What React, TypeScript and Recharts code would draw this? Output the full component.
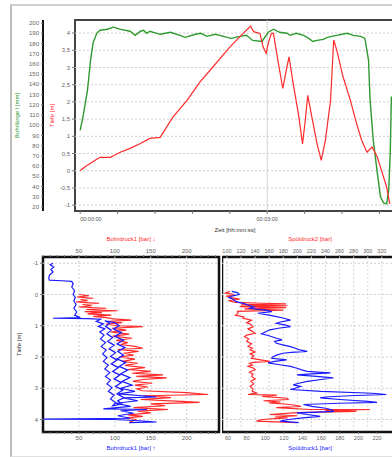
import React from 'react';
import { LineChart, Line, XAxis, YAxis, ReferenceLine, ReferenceArea, Label } from 'recharts';

const FONT = '"Liberation Sans", Arial, sans-serif';
const RED = '#ff2a2a';
const GREEN = '#2e9a2e';
const BLUE = '#1a1aff';
const TICK = { fontSize: 6, fill: '#666' };

const comma = (v: number) => String(v).replace('.', ',');

// upper chart: depth and drilled length over time (seconds)
const timeTicks = [0, 36, 72, 108, 144, 180, 216, 252, 288];
const timeLabels: Record<number, string> = { 0: '00:00:00', 180: '00:03:00' };
const depthTicksTop = [4, 3.5, 3, 2.5, 2, 1.5, 1, 0.5, 0, -0.5, -1];
const lengthTicks = [200, 190, 180, 170, 160, 150, 140, 130, 120, 110, 100, 90, 80, 70, 60, 50, 40, 30, 20];

const depthTime = [0, 5, 10, 14, 19, 29, 33, 38, 48, 58, 67, 77, 89, 103, 115, 125, 144, 157, 164, 167, 173, 176, 179, 181, 184, 186, 190, 195, 199, 201, 205, 210, 214, 217, 219, 223, 228, 232, 236, 241, 244, 247, 253, 260, 266, 271, 276, 281, 286, 290, 295, 298];
const depthValue = [0, 0.12, 0.22, 0.3, 0.39, 0.39, 0.45, 0.53, 0.65, 0.79, 0.94, 0.97, 1.55, 2.05, 2.57, 2.92, 3.59, 4.0, 4.2, 4.04, 3.99, 3.6, 3.41, 3.7, 3.99, 3.99, 3.26, 2.39, 3.02, 3.31, 2.53, 1.66, 0.78, 1.56, 2.19, 1.56, 0.78, 0.3, 0.88, 2.05, 3.8, 3.5, 2.73, 2.05, 1.37, 0.88, 0.54, 0.69, 0.39, 0.01, -0.48, -0.96];

const lengthTime = [0, 3, 7, 10, 12.5, 16, 19, 26, 32, 38, 48, 53, 58, 61, 64, 67, 77, 87, 96, 101, 111, 116, 122, 130, 138, 145, 154, 160, 166, 175, 181, 186, 192, 199, 202, 208, 215, 220, 224, 228, 234, 238, 242, 247, 252, 257, 263, 270, 274, 277.5, 279, 282, 286, 289, 292, 295, 297, 298.5, 299.5];
const lengthValue = [95, 110, 134, 164, 181, 190, 193, 194, 196, 194, 192, 188, 192, 193, 190, 192, 189, 191, 188, 186, 189, 190, 187, 189, 187, 185, 187, 188, 183, 182, 191, 194, 191, 190, 188, 190, 188, 185, 182, 183, 184, 186, 187, 188, 189, 190, 188, 187, 185, 164, 125, 86, 53, 30, 24, 23, 37, 76, 128];

// lower charts: pressure profiles over depth, [depth, pressure]
const depthTicksLow = [-1, 0, 1, 2, 3, 4];
const leftTicks = [0, 10, 20, 30, 40, 50, 60, 70, 80, 90, 100, 110, 120, 130, 140, 150, 160, 170, 180, 190, 200, 210, 220, 230, 240];
const rightTopTicks = [100, 120, 140, 160, 180, 200, 220, 240, 260, 280, 300, 320, 340];
const rightBottomTicks = [60, 80, 100, 120, 140, 160, 180, 200, 220, 240];

const leftRed: [number, number][] = [
  [0.0, 50], [0.04, 64], [0.08, 47], [0.12, 70], [0.16, 52], [0.2, 62], [0.24, 46], [0.28, 78], [0.32, 55], [0.36, 68],
  [0.4, 50], [0.44, 88], [0.48, 60], [0.52, 104], [0.55, 58], [0.58, 82], [0.62, 62], [0.66, 95], [0.7, 70], [0.74, 88],
  [0.78, 98], [0.82, 123], [0.86, 92], [0.9, 110], [0.95, 88], [1.0, 105], [1.03, 139], [1.08, 96], [1.14, 116], [1.2, 94],
  [1.27, 120], [1.33, 97], [1.4, 124], [1.47, 102], [1.54, 118], [1.6, 108], [1.66, 128], [1.72, 139], [1.76, 104], [1.82, 133],
  [1.88, 112], [1.94, 126], [2.0, 106], [2.07, 128], [2.14, 110], [2.2, 132], [2.27, 114], [2.34, 142], [2.4, 118], [2.46, 150],
  [2.52, 124], [2.57, 167], [2.62, 130], [2.67, 172], [2.72, 139], [2.78, 125], [2.84, 152], [2.9, 128], [2.96, 146], [3.02, 131],
  [3.08, 138], [3.14, 200], [3.2, 230], [3.24, 140], [3.3, 178], [3.36, 136], [3.42, 193], [3.45, 218], [3.5, 150], [3.56, 170],
  [3.62, 126], [3.68, 174], [3.73, 132], [3.79, 150], [3.85, 118], [3.9, 139], [3.95, 115], [4.0, 130], [4.05, 124], [4.1, 120],
];

const leftBlue: [number, number][] = [
  [-1.0, 14], [-0.95, 10], [-0.88, 15], [-0.8, 11], [-0.72, 14], [-0.62, 9], [-0.52, 8], [-0.46, 9], [-0.44, 26], [-0.42, 40],
  [-0.34, 42], [-0.24, 40], [-0.12, 44], [0.0, 42], [0.1, 45], [0.2, 43], [0.32, 46], [0.44, 43], [0.56, 47], [0.66, 44],
  [0.74, 52], [0.76, 14], [0.77, 62], [0.79, 80], [0.86, 74], [0.94, 84], [1.02, 77], [1.1, 86], [1.2, 79], [1.3, 85],
  [1.42, 80], [1.54, 87], [1.66, 81], [1.78, 88], [1.9, 83], [2.02, 89], [2.14, 84], [2.26, 91], [2.38, 86], [2.5, 93],
  [2.62, 87], [2.74, 94], [2.86, 89], [2.98, 96], [3.1, 91], [3.22, 99], [3.34, 94], [3.46, 101], [3.56, 97], [3.5, 110],
  [3.4, 104], [3.3, 113], [3.18, 103], [3.06, 111], [2.94, 101], [2.82, 109], [2.7, 99], [2.58, 107], [2.46, 97], [2.34, 105],
  [2.22, 95], [2.1, 103], [1.98, 94], [1.86, 101], [1.74, 92], [1.62, 99], [1.5, 90], [1.38, 97], [1.26, 89], [1.14, 95],
  [1.02, 87], [0.92, 93], [0.84, 86], [0.9, 100], [1.0, 106], [1.1, 98], [1.22, 109], [1.34, 100], [1.46, 112], [1.58, 103],
  [1.7, 114], [1.82, 104], [1.94, 112], [2.06, 103], [2.18, 115], [2.3, 106], [2.42, 118], [2.54, 108], [2.66, 121], [2.78, 110],
  [2.9, 124], [3.0, 108], [3.1, 128], [3.18, 106], [3.28, 158], [3.31, 112], [3.4, 132], [3.48, 101], [3.58, 122], [3.66, 84],
  [3.68, 145], [3.72, 108], [3.8, 126], [3.88, 104], [3.96, 121], [3.99, 0], [4.0, 98], [4.04, 134], [4.08, 158], [4.1, 120],
];

const rightRed: [number, number][] = [
  [-0.1, 104], [-0.05, 98], [0.0, 110], [0.05, 100], [0.1, 106], [0.15, 118], [0.2, 102], [0.25, 112], [0.28, 150], [0.3, 184],
  [0.33, 120], [0.36, 186], [0.39, 118], [0.42, 184], [0.46, 125], [0.5, 180], [0.54, 115], [0.6, 116], [0.66, 112], [0.72, 124],
  [0.76, 123], [0.82, 135], [0.9, 128], [0.96, 134], [1.03, 137], [1.1, 130], [1.18, 136], [1.24, 140], [1.3, 128], [1.35, 125],
  [1.42, 131], [1.5, 128], [1.58, 135], [1.66, 130], [1.72, 136], [1.77, 133], [1.84, 140], [1.9, 133], [1.96, 138], [2.04, 135],
  [2.1, 150], [2.14, 161], [2.17, 138], [2.2, 132], [2.26, 136], [2.3, 130], [2.36, 138], [2.41, 140], [2.48, 132], [2.55, 137],
  [2.62, 135], [2.7, 140], [2.78, 134], [2.86, 138], [2.94, 133], [3.02, 137], [3.1, 136], [3.15, 142], [3.2, 130], [3.22, 171],
  [3.26, 150], [3.32, 186], [3.36, 187], [3.4, 152], [3.44, 176], [3.47, 160], [3.52, 190], [3.58, 205], [3.62, 170], [3.68, 218],
  [3.68, 303], [3.71, 240], [3.74, 284], [3.77, 210], [3.79, 194], [3.84, 161], [3.88, 200], [3.92, 168], [3.95, 186], [4.0, 150],
  [4.05, 142], [4.1, 199],
];

const rightBlue: [number, number][] = [
  [-0.1, 64], [-0.06, 70], [0.0, 72], [0.05, 64], [0.1, 61], [0.16, 66], [0.22, 68], [0.3, 78], [0.36, 84], [0.4, 88],
  [0.44, 82], [0.5, 100], [0.55, 107], [0.6, 92], [0.66, 104], [0.71, 112], [0.76, 120], [0.82, 127], [0.88, 116], [0.92, 112],
  [0.98, 122], [1.03, 127], [1.08, 114], [1.13, 105], [1.2, 100], [1.26, 96], [1.32, 104], [1.4, 112], [1.45, 118], [1.5, 110],
  [1.56, 112], [1.62, 120], [1.67, 127], [1.72, 132], [1.77, 137], [1.82, 145], [1.85, 128], [1.88, 119], [1.94, 112], [2.0, 108],
  [2.04, 107], [2.09, 123], [2.14, 110], [2.19, 103], [2.24, 114], [2.3, 127], [2.36, 134], [2.42, 140], [2.46, 145], [2.49, 160],
  [2.51, 170], [2.54, 150], [2.57, 134], [2.62, 155], [2.67, 173], [2.72, 160], [2.78, 145], [2.84, 136], [2.89, 130], [2.94, 138],
  [3.0, 132], [3.04, 127], [3.1, 160], [3.16, 215], [3.2, 230], [3.24, 190], [3.28, 165], [3.31, 159], [3.36, 180], [3.42, 210],
  [3.45, 220], [3.48, 180], [3.52, 141], [3.58, 150], [3.64, 165], [3.7, 172], [3.74, 173], [3.77, 150], [3.79, 134], [3.84, 145],
  [3.9, 159], [3.95, 140], [4.0, 125], [4.05, 116], [4.1, 136],
];

const depthSeries = depthTime.map((t, i) => ({ t, v: depthValue[i] }));
const lengthSeries = lengthTime.map((t, i) => ({ t, v: lengthValue[i] }));
const toPoints = (rows: [number, number][]) => rows.map(([d, p]) => ({ d, p }));

const renderTimeTick = (props: any) => {
  const { x, y, payload } = props;
  const label = timeLabels[payload.value] ?? '';
  return (
    <text x={x} y={y + 5} textAnchor={payload.value === 0 ? 'start' : 'middle'} fontSize={5.5} fill="#555">
      {label}
    </text>
  );
};

const lineProps = { type: 'linear' as const, dot: false, isAnimationActive: false, strokeWidth: 1.2 };

function TopChart() {
  return (
    <LineChart width={400} height={240} margin={{ top: 20, right: 5, bottom: 0, left: 8 }} style={{ fontFamily: FONT }}>
      <XAxis dataKey="t" type="number" domain={[-5, 303]} allowDataOverflow ticks={timeTicks} interval={0}
        tick={renderTimeTick} tickSize={3} axisLine={false} tickLine={{ stroke: '#777' }} height={29}>
        <Label value="Zeit [hh:mm:ss]" position="insideBottom" offset={8} style={{ fontSize: 6, fill: '#333' }} />
      </XAxis>
      <YAxis yAxisId="depth" type="number" domain={[-1.17, 4.38]} allowDataOverflow ticks={depthTicksTop} interval={0}
        tickFormatter={comma} width={32} axisLine={false} tickSize={3} tick={TICK} tickLine={{ stroke: '#777' }}>
        <Label value="Tiefe [m]" angle={-90} position="insideLeft" offset={9} style={{ fontSize: 6, fill: RED, textAnchor: 'middle' }} />
      </YAxis>
      <YAxis yAxisId="len" type="number" domain={[16, 203]} allowDataOverflow ticks={lengthTicks} interval={0}
        width={35} axisLine={{ stroke: '#111', strokeWidth: 2 }} tickSize={2} tick={TICK} tickLine={{ stroke: '#777' }}>
        <Label value="Bohrlänge l [mm]" angle={-90} position="insideLeft" offset={9} style={{ fontSize: 6, fill: GREEN, textAnchor: 'middle' }} />
      </YAxis>
      {depthTicksTop.map(v => (
        <ReferenceLine key={v} yAxisId="depth" y={v} stroke="#cfcfcf" strokeDasharray="2 2" />
      ))}
      <ReferenceLine yAxisId="depth" x={180} stroke="#d4d4d4" />
      <Line {...lineProps} yAxisId="len" data={lengthSeries} dataKey="v" stroke={GREEN} strokeWidth={1.4} />
      <Line {...lineProps} yAxisId="depth" data={depthSeries} dataKey="v" stroke={RED} />
      <ReferenceArea yAxisId="depth" x1={-5} x2={303} y1={-1.17} y2={4.38} ifOverflow="visible"
        fill="none" stroke="#444" strokeWidth={2} />
    </LineChart>
  );
}

function LeftProfile() {
  return (
    <LineChart width={222} height={222} margin={{ top: 0, right: 3, bottom: 0, left: 8 }} style={{ fontFamily: FONT }}>
      <XAxis xAxisId="top" orientation="top" dataKey="p" type="number" domain={[0, 245]} allowDataOverflow
        ticks={leftTicks} interval={0} tickFormatter={(v: number) => (v > 0 && v % 50 === 0 ? String(v) : '')}
        height={25} tickSize={2} axisLine={false} tick={TICK} tickLine={{ stroke: '#777' }}>
        <Label value="Bohrdruck1 [bar] ↓" position="insideTop" offset={5} style={{ fontSize: 6, fill: RED }} />
      </XAxis>
      <XAxis xAxisId="bot" orientation="bottom" dataKey="p" type="number" domain={[0, 245]} allowDataOverflow
        ticks={leftTicks} interval={0} tickFormatter={(v: number) => (v > 0 && v % 50 === 0 ? String(v) : '')}
        height={22} tickSize={2} axisLine={false} tick={TICK} tickLine={{ stroke: '#777' }}>
        <Label value="Bohrdruck1 [bar] ↑" position="insideBottom" offset={4} style={{ fontSize: 6, fill: BLUE }} />
      </XAxis>
      <YAxis yAxisId="d" type="number" reversed domain={[-1.2, 4.4]} allowDataOverflow ticks={depthTicksLow} interval={0}
        width={35} axisLine={false} tickSize={3} tick={TICK} tickLine={{ stroke: '#777' }}>
        <Label value="Tiefe [m]" angle={-90} position="insideLeft" offset={11} style={{ fontSize: 6, fill: '#333', textAnchor: 'middle' }} />
      </YAxis>
      {depthTicksLow.map(v => (
        <ReferenceLine key={v} xAxisId="top" yAxisId="d" y={v} stroke="#cfcfcf" strokeDasharray="2 2" />
      ))}
      {[50, 100, 150, 200].map(v => (
        <ReferenceLine key={v} xAxisId="top" yAxisId="d" x={v} stroke="#cfcfcf" strokeDasharray="2 2" />
      ))}
      <Line {...lineProps} xAxisId="top" yAxisId="d" data={toPoints(leftRed)} dataKey="d" stroke={RED} />
      <Line {...lineProps} xAxisId="bot" yAxisId="d" data={toPoints(leftBlue)} dataKey="d" stroke={BLUE} />
      <ReferenceArea xAxisId="top" yAxisId="d" x1={0} x2={245} y1={-1.2} y2={4.4} ifOverflow="visible"
        fill="none" stroke="#111" strokeWidth={2.5} />
    </LineChart>
  );
}

function RightProfile() {
  return (
    <LineChart width={180} height={222} margin={{ top: 0, right: 4, bottom: 0, left: 0 }} style={{ fontFamily: FONT }}>
      <XAxis xAxisId="top" orientation="top" dataKey="p" type="number" domain={[93, 343]} allowDataOverflow
        ticks={rightTopTicks} interval={0} height={25} tickSize={2} axisLine={false}
        tickFormatter={(v: number) => (v <= 320 ? String(v) : '')}
        tick={{ fontSize: 5.5, fill: '#666' }} tickLine={{ stroke: '#777' }}>
        <Label value="Spüldruck2 [bar]" position="insideTop" offset={5} style={{ fontSize: 6, fill: RED }} />
      </XAxis>
      <XAxis xAxisId="bot" orientation="bottom" dataKey="p" type="number" domain={[53.5, 242.5]} allowDataOverflow
        ticks={rightBottomTicks} interval={0} height={22} tickSize={2} axisLine={false}
        tickFormatter={(v: number) => (v <= 220 ? String(v) : '')}
        tick={{ fontSize: 5.5, fill: '#666' }} tickLine={{ stroke: '#777' }}>
        <Label value="Spüldruck1 [bar]" position="insideBottom" offset={4} style={{ fontSize: 6, fill: BLUE }} />
      </XAxis>
      <YAxis yAxisId="d" type="number" reversed domain={[-1.2, 4.4]} allowDataOverflow ticks={depthTicksLow} hide />
      {depthTicksLow.map(v => (
        <ReferenceLine key={v} xAxisId="top" yAxisId="d" y={v} stroke="#cfcfcf" strokeDasharray="2 2" />
      ))}
      {rightTopTicks.map(v => (
        <ReferenceLine key={v} xAxisId="top" yAxisId="d" x={v} stroke="#d6d6d6" strokeDasharray="2 2" />
      ))}
      <Line {...lineProps} xAxisId="top" yAxisId="d" data={toPoints(rightRed)} dataKey="d" stroke={RED} />
      <Line {...lineProps} xAxisId="bot" yAxisId="d" data={toPoints(rightBlue)} dataKey="d" stroke={BLUE} />
      <ReferenceArea xAxisId="top" yAxisId="d" x1={93} x2={343} y1={-1.2} y2={4.4} ifOverflow="visible"
        fill="none" stroke="#111" strokeWidth={2.5} />
    </LineChart>
  );
}

export default function App() {
  return (
    <div style={{ position: 'absolute', left: 0, top: 0, width: 392, height: 457, overflow: 'hidden', background: '#fff' }}>
      <div style={{ position: 'absolute', left: 10, top: 4, width: 400, height: 450, borderLeft: '2px solid #bdbdbd', borderTop: '2px solid #cfcfcf', borderBottom: '1px solid #e0e0e0' }} />
      <div style={{ position: 'absolute', left: 0, top: 0 }}>
        <TopChart />
      </div>
      <div style={{ position: 'absolute', left: 0, top: 232 }}>
        <LeftProfile />
      </div>
      <div style={{ position: 'absolute', left: 222, top: 232 }}>
        <RightProfile />
      </div>
    </div>
  );
}
